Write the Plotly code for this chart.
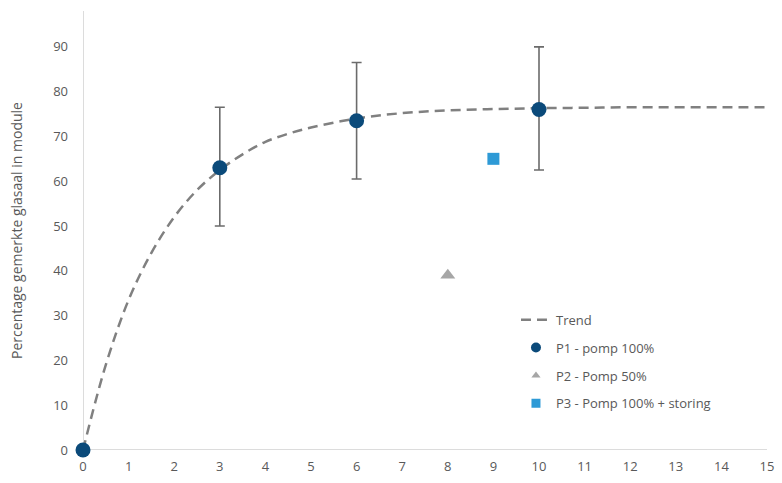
import plotly.graph_objects as go

# Trend line
trend_x = [0, 0.5, 1, 1.5, 2, 2.5, 3, 3.5, 4, 4.5, 5, 6, 7, 8, 9, 10, 11, 12, 13, 14, 15]
trend_y = [0, 19, 33.5, 44, 52, 58, 62.5, 66, 68.8, 70.6, 72, 74, 75.2, 75.8, 76.1, 76.3, 76.4, 76.5, 76.5, 76.5, 76.5]

# P1 - pomp 100%
p1_x = [0, 3, 6, 10]
p1_y = [0, 63, 73.5, 76]
p1_err_plus = [0, 13.5, 13, 14]
p1_err_minus = [0, 13, 13, 13.5]

# P2 - Pomp 50%
p2_x = [8]
p2_y = [39]

# P3 - Pomp 100% + storing
p3_x = [9]
p3_y = [65]

x_ticks = list(range(0, 16))
y_ticks = list(range(0, 100, 10))

grey_txt = "#595959"
fnt = "Open Sans"
c_p1, c_p2, c_p3 = "#0b4a7a", "#a6a6a6", "#2e9ad6"

fig = go.Figure()
fig.add_trace(go.Scatter(
    x=trend_x, y=trend_y, mode="lines", name="Trend",
    line=dict(color="#808080", width=2.5, dash="10px,6px", shape="spline"),
    legendgroup="a", hoverinfo="skip"))
fig.add_trace(go.Scatter(
    x=p1_x, y=p1_y, mode="markers", name="P1 - pomp 100%", showlegend=False,
    marker=dict(color=c_p1, size=15, symbol="circle"),
    error_y=dict(type="data", symmetric=False, array=p1_err_plus,
                 arrayminus=p1_err_minus, color="#6b6b6b", thickness=1.6, width=5),
    legendgroup="b", cliponaxis=False))
fig.add_trace(go.Scatter(
    x=p2_x, y=p2_y, mode="markers", name="P2 - Pomp 50%", showlegend=False,
    marker=dict(color=c_p2, size=13, symbol="triangle-up"),
    legendgroup="c"))
fig.add_trace(go.Scatter(
    x=p3_x, y=p3_y, mode="markers", name="P3 - Pomp 100% + storing", showlegend=False,
    marker=dict(color=c_p3, size=12, symbol="square"),
    legendgroup="d"))

# legend entries with smaller symbols (as in the original legend)
for name, col, sym, sz, grp in [("P1 - pomp 100%", c_p1, "circle", 10, "b"),
                                ("P2 - Pomp 50%", c_p2, "triangle-up", 8, "c"),
                                ("P3 - Pomp 100% + storing", c_p3, "square", 9, "d")]:
    fig.add_trace(go.Scatter(x=[None], y=[None], mode="markers", name=name,
                             marker=dict(color=col, size=sz, symbol=sym),
                             legendgroup=grp, hoverinfo="skip"))

fig.update_layout(
    width=782, height=483,
    margin=dict(l=83, r=15, t=11, b=33, autoexpand=False),
    paper_bgcolor="white", plot_bgcolor="white",
    font=dict(family=fnt, size=13, color=grey_txt),
    showlegend=True,
    legend=dict(x=0.633, y=0.331, xanchor="left", yanchor="top",
                traceorder="grouped", tracegroupgap=8,
                font=dict(size=13, color=grey_txt), bgcolor="rgba(0,0,0,0)"),
    xaxis=dict(range=[0, 15], tickvals=x_ticks, showgrid=False, zeroline=False,
               showline=False, ticks="", ticklabelstandoff=7, automargin=False,
               tickfont=dict(size=13, color=grey_txt)),
    yaxis=dict(range=[0, 98], tickvals=y_ticks, showgrid=False, zeroline=False,
               showline=False, ticks="", ticklabelstandoff=14, automargin=False,
               title=dict(text="Percentage gemerkte glasaal in module",
                          font=dict(size=14, color=grey_txt), standoff=27),
               tickfont=dict(size=13, color=grey_txt)),
)
# axis lines at x=0 and y=0
fig.add_shape(type="line", xref="x", yref="paper", x0=0, x1=0, y0=0, y1=1,
              line=dict(color="#d0d0d0", width=1.5), layer="below")
fig.add_shape(type="line", xref="paper", yref="y", x0=0, x1=1, y0=0, y1=0,
              line=dict(color="#d0d0d0", width=1.5), layer="below")

fig.write_html("out.html", config={"displayModeBar": False},
               post_script="document.body.style.margin='0';document.body.style.padding='0';")
